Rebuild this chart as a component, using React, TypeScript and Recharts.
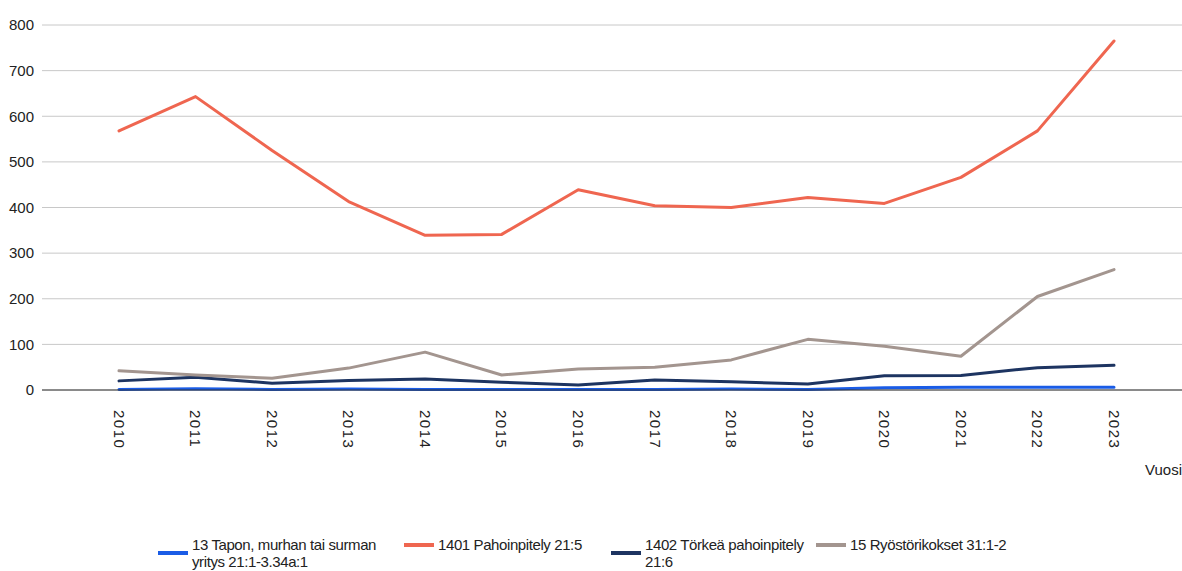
import React from 'react';
import { LineChart, Line, XAxis, YAxis, CartesianGrid } from 'recharts';

const years = ['2010', '2011', '2012', '2013', '2014', '2015', '2016', '2017', '2018', '2019', '2020', '2021', '2022', '2023'];
const tapot = [1, 3, 1, 2, 1, 1, 1, 1, 2, 1, 5, 6, 6, 6];
const pahoinpitely = [568, 643, 525, 413, 339, 341, 439, 404, 400, 422, 409, 466, 568, 765];
const torkea = [20, 28, 15, 21, 24, 17, 11, 22, 18, 13, 31, 32, 49, 54];
const ryosto = [42, 33, 26, 48, 83, 33, 46, 50, 66, 111, 96, 74, 205, 264];
const yTicks = [0, 100, 200, 300, 400, 500, 600, 700, 800];

const series = [
  { key: 'tapot', name: '13 Tapon, murhan tai surman yritys 21:1-3.34a:1', color: '#1a5ce6', left: 158, width: 205 },
  { key: 'pahoinpitely', name: '1401 Pahoinpitely 21:5', color: '#ef6650', left: 404, width: 180 },
  { key: 'torkea', name: '1402 Törkeä pahoinpitely 21:6', color: '#1d3461', left: 611, width: 175 },
  { key: 'ryosto', name: '15 Ryöstörikokset 31:1-2', color: '#a3958f', left: 816, width: 200 },
];

const data = years.map((y, i) => ({
  year: y,
  tapot: tapot[i],
  pahoinpitely: pahoinpitely[i],
  torkea: torkea[i],
  ryosto: ryosto[i],
}));

const font = '"Liberation Sans", Arial, sans-serif';

const YearTick = (props: any) => {
  const { x, y, payload } = props;
  return (
    <g transform={`translate(${x},${y})`}>
      <text transform="rotate(90)" x={12} y={0} dy="0.35em" textAnchor="start" fill="#222" fontSize={15} letterSpacing={1.5} fontFamily={font}>
        {payload.value}
      </text>
    </g>
  );
};

export default function App() {
  return (
    <div style={{ position: 'absolute', left: 0, top: 0, width: 1182, height: 571, background: '#fff', overflow: 'hidden' }}>
      <LineChart width={1182} height={571} data={data} margin={{ top: 25, right: 0, bottom: 121, left: 0 }}>
        <CartesianGrid vertical={false} stroke="#c8c8c8" />
        <XAxis
          dataKey="year"
          interval={0}
          padding={{ left: 77, right: 68 }}
          stroke="#333"
          tickLine={false}
          tick={<YearTick />}
          height={60}
        />
        <YAxis
          domain={[0, 800]}
          ticks={yTicks}
          width={42}
          axisLine={false}
          tickLine={false}
          tick={{ fill: '#222', fontSize: 15, fontFamily: font }}
        />
        {series.map((s) => (
          <Line
            key={s.key}
            type="linear"
            dataKey={s.key}
            name={s.name}
            stroke={s.color}
            strokeWidth={3}
            strokeLinecap="round"
            strokeLinejoin="round"
            dot={false}
            activeDot={false}
            isAnimationActive={false}
          />
        ))}
      </LineChart>
      <div style={{ position: 'absolute', left: 1145, top: 461, fontFamily: font, fontSize: 15, color: '#222', whiteSpace: 'nowrap' }}>Vuosi</div>
      {series.map((s) => (
        <div key={s.key} style={{ position: 'absolute', left: s.left, top: 536, display: 'flex', alignItems: 'center', fontFamily: font, fontSize: 15, letterSpacing: -0.4, color: '#222', lineHeight: '17px' }}>
          <span style={{ display: 'inline-block', width: 30, height: 4, background: s.color, marginRight: 4 }} />
          <span style={{ maxWidth: s.width }}>{s.name}</span>
        </div>
      ))}
    </div>
  );
}
